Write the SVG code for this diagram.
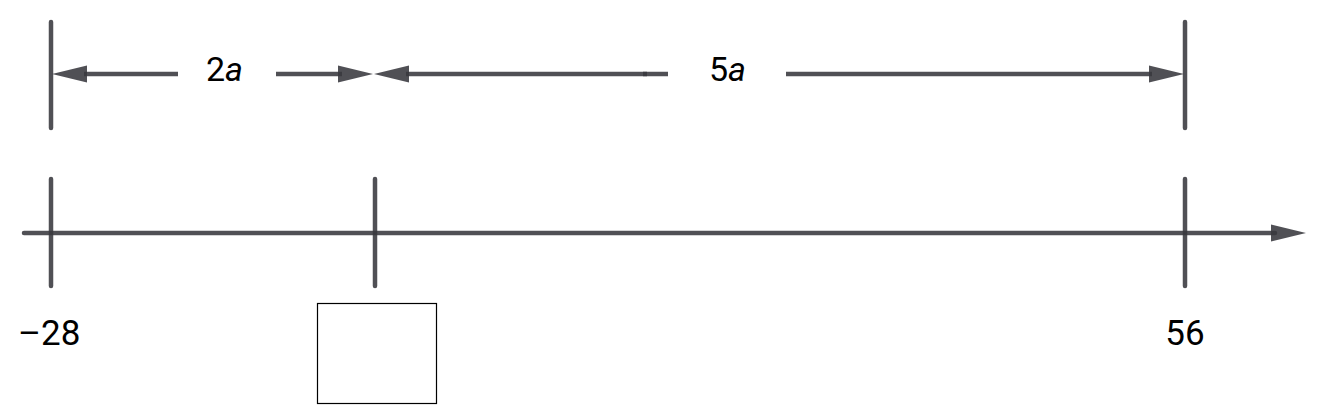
<svg xmlns="http://www.w3.org/2000/svg" width="1320" height="420" viewBox="0 0 1320 420">
<style>
.ln{stroke:#38383d;stroke-opacity:0.88;stroke-width:4.5;stroke-linecap:round;fill:none}
.ah{fill:#38383d;fill-opacity:0.88;stroke:none}
.t{font-family:Roboto,"Liberation Sans",sans-serif;font-size:34px;fill:#000}
.n{font-family:Roboto,"Liberation Sans",sans-serif;font-size:35px;fill:#000}
</style>
<rect width="1320" height="420" fill="#fff"/>
<g id="connectors">
<line class="ln" x1="51" y1="22" x2="51" y2="128"/>
<line class="ln" x1="1185" y1="22" x2="1185" y2="128"/>
<line class="ln" x1="84" y1="74" x2="178" y2="74" style="stroke-linecap:butt"/>
<polygon class="ah" points="52,74 87,65.5 87,82.5"/>
<line class="ln" x1="276" y1="74" x2="342" y2="74" style="stroke-linecap:butt"/>
<polygon class="ah" points="373,74 338,65.5 338,82.5"/>
<line class="ln" x1="406" y1="74" x2="647" y2="74" style="stroke-linecap:butt"/>
<line class="ln" x1="643" y1="74" x2="668" y2="74" style="stroke-linecap:butt"/>
<polygon class="ah" points="374,74 409,65.5 409,82.5"/>
<line class="ln" x1="786" y1="74" x2="1152" y2="74" style="stroke-linecap:butt"/>
<polygon class="ah" points="1184,74 1149,65.5 1149,82.5"/>
<line class="ln" x1="24" y1="233" x2="1275" y2="233"/>
<polygon class="ah" points="1306,233 1271,224.5 1271,241.5"/>
<line class="ln" x1="51" y1="179" x2="51" y2="286"/>
<line class="ln" x1="375" y1="179" x2="375" y2="286"/>
<line class="ln" x1="1185" y1="179" x2="1185" y2="286"/>
</g>
<g id="label-2a"><text class="t" x="206" y="81">2<tspan font-style="italic">a</tspan></text></g>
<g id="label-5a"><text class="t" x="709" y="81">5<tspan font-style="italic">a</tspan></text></g>
<g id="label-m28"><text class="n" x="18" y="345">–28</text></g>
<g id="label-56"><text class="n" x="1185" y="345" text-anchor="middle">56</text></g>
<g id="box"><rect x="317.5" y="303.5" width="119" height="100" fill="#fff" stroke="#000" stroke-width="1.2"/></g>
</svg>
